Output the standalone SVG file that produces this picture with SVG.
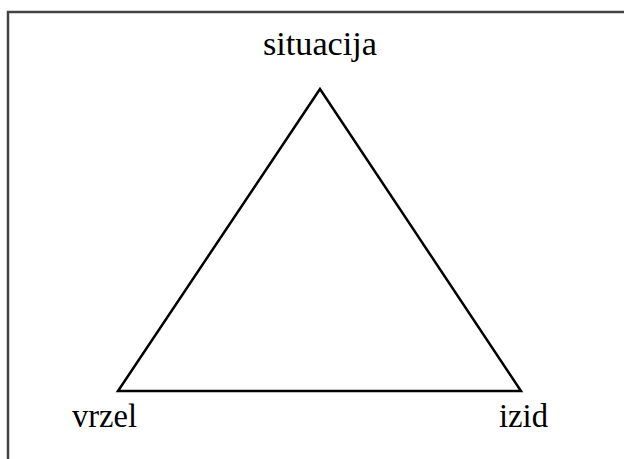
<svg xmlns="http://www.w3.org/2000/svg" width="624" height="459" viewBox="0 0 624 459">
<style>
.lbl{font-family:"Liberation Serif","Times New Roman",Times,serif;font-size:33px;fill:#000}
.edge{stroke:#000;stroke-width:2.5;fill:none;stroke-linejoin:miter}
.frame{stroke:#444;stroke-width:2.5;fill:none}
</style>
<rect width="624" height="459" fill="#fff"/>
<path class="frame" d="M8,459 V12 H624"/>
<g id="connectors">
<path class="edge" d="M320,89 L118,391 L521,391 Z"/>
</g>
<g id="situacija"><text class="lbl" x="263" y="55" textLength="114" lengthAdjust="spacingAndGlyphs">situacija</text></g>
<g id="vrzel"><text class="lbl" x="72" y="426.5" textLength="65" lengthAdjust="spacingAndGlyphs">vrzel</text></g>
<g id="izid"><text class="lbl" x="499" y="426.5" textLength="49" lengthAdjust="spacingAndGlyphs">izid</text></g>
</svg>
